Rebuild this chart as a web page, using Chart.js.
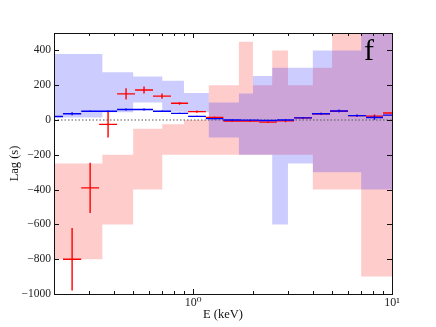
<!DOCTYPE html>
<html>
<head>
<meta charset="utf-8">
<script src="https://cdn.jsdelivr.net/npm/chart.js"></script>
<style>
  body { margin: 0; background: #fff; }
  canvas { display: block; }
</style>
</head>
<body>
<canvas id="lagChart" width="436" height="327"></canvas>
<script>
// energy bins of the lag points (keV), one more edge than points
const binEdges = [0.18, 0.222, 0.274, 0.337, 0.415, 0.511, 0.629, 0.775, 0.944, 1.16, 1.42,
                  1.74, 2.15, 2.64, 3.22, 3.96, 4.88, 6.01, 7.40, 9.01, 11.1];

// red points (first bin has no red point)
const redLag = [null, -800, -390, -25, 150, 172, 137, 96, 48, 15, -6, -6, -12, -5, 12, 36, 50, 25, 22, 40];
const redErr = [null, 180, 145, 75, 32, 20, 15, 8, 6, 5, 4, 4, 5, 8, 5, 5, 6, 5, 10, 6];

// blue points
const blueLag = [20, 36, 50, 50, 60, 60, 50, 38, 21, 8, 0, -1, -3, 0, 12, 36, 52, 25, 14, 28];
const blueErr = [3, 8, 4, 4, 6, 6, 4, 3, 3, 3, 3, 3, 3, 3, 4, 6, 8, 6, 12, 5];

// coarser bins of the shaded ranges
const bandEdges = [0.2, 0.35, 0.5, 0.7, 0.9, 1.2, 1.7, 2.0, 2.5, 3.0, 4.0, 5.0, 7.0, 10.0];
const redBandLo  = [-800, -600, -400, -200, -200, -200, -200, -200, -200, -200, -400, -400, -900];
const redBandHi  = [-250, -200, -50, -25, 0, 200, 450, 200, 400, 200, 300, 600, 600];
const blueBandLo = [15, 45, 100, 48, 45, -100, -200, -200, -600, -250, -300, -300, -400];
const blueBandHi = [380, 275, 250, 225, 155, 100, 153, 253, 300, 300, 400, 400, 600];

// axis ticks
const xMajor = [1, 10];
const xMinor = [0.3, 0.4, 0.5, 0.6, 0.7, 0.8, 0.9, 2, 3, 4, 5, 6, 7, 8, 9];
const yTicks = [-1000, -800, -600, -400, -200, 0, 200, 400];

//turns a band into points for a stepped line
function stepPoints(vals) {
    const pts = vals.map((v, i) => ({x: bandEdges[i], y: v}));
    pts.push({x: bandEdges[bandEdges.length - 1], y: vals[vals.length - 1]});
    return pts;
}

//horizontal parts of the error bars, broken with nulls
function hBars(lag) {
    const pts = [];
    for (let i = 0; i < lag.length; i++) {
        if (lag[i] === null) continue;
        pts.push({x: binEdges[i], y: lag[i]});
        pts.push({x: binEdges[i + 1], y: lag[i]});
        pts.push({x: binEdges[i + 1], y: null});
    }
    return pts;
}

//vertical parts of the error bars
function vBars(lag, err) {
    const pts = [];
    for (let i = 0; i < lag.length; i++) {
        if (lag[i] === null) continue;
        const mid = Math.sqrt(binEdges[i] * binEdges[i + 1]);
        pts.push({x: mid, y: lag[i] - err[i]});
        pts.push({x: mid, y: lag[i] + err[i]});
        pts.push({x: mid, y: null});
    }
    return pts;
}

const serif = "'Liberation Serif', 'DejaVu Serif', serif";
const noLine = 'rgba(0,0,0,0)';

function band(vals, color, fill, order) {
    return {data: stepPoints(vals), stepped: true, borderColor: noLine, borderWidth: 0,
            backgroundColor: color, fill: fill, pointRadius: 0, order: order};
}

function bars(pts, color, order) {
    return {data: pts, borderColor: color, borderWidth: 1.4, pointRadius: 0,
            fill: false, spanGaps: false, order: order};
}

//frame, inward ticks and the panel letter
const frameTicks = {
    id: 'frameTicks',
    afterDatasetsDraw(chart) {
        const {ctx, chartArea: a, scales} = chart;
        const x = scales.x, y = scales.y;
        ctx.save();
        ctx.strokeStyle = '#111';
        ctx.lineWidth = 1;
        ctx.beginPath();
        const tickX = (v, len) => {
            const px = Math.round(x.getPixelForValue(v)) + 0.5;
            ctx.moveTo(px, a.bottom); ctx.lineTo(px, a.bottom - len);
            ctx.moveTo(px, a.top); ctx.lineTo(px, a.top + len);
        };
        xMajor.forEach(v => tickX(v, 5));
        xMinor.forEach(v => tickX(v, 3));
        yTicks.forEach(v => {
            const py = Math.round(y.getPixelForValue(v)) + 0.5;
            ctx.moveTo(a.left, py); ctx.lineTo(a.left + 5, py);
            ctx.moveTo(a.right, py); ctx.lineTo(a.right - 5, py);
        });
        ctx.stroke();
        ctx.strokeRect(Math.round(a.left) + 0.5, Math.round(a.top) + 0.5,
                       Math.round(a.right - a.left), Math.round(a.bottom - a.top));
        ctx.fillStyle = '#000';
        ctx.font = '30px ' + serif;
        ctx.textAlign = 'left';
        ctx.textBaseline = 'alphabetic';
        ctx.fillText('f', 364, 60);
        ctx.restore();
    }
};

new Chart('lagChart', {
    type: 'line',
    data: {
        datasets: [
            band(redBandHi, 'rgba(255,0,0,0.2)', '+1', 6),
            band(redBandLo, 'rgba(255,0,0,0.2)', false, 6),
            band(blueBandHi, 'rgba(0,0,255,0.2)', '+1', 5),
            band(blueBandLo, 'rgba(0,0,255,0.2)', false, 5),
            {data: [{x: 0.2, y: 0}, {x: 10, y: 0}], borderColor: '#555', borderWidth: 1,
             borderDash: [1.5, 2], pointRadius: 0, fill: false, order: 4},
            bars(hBars(redLag), 'rgb(255,0,0)', 3),
            bars(vBars(redLag, redErr), 'rgb(255,0,0)', 3),
            bars(hBars(blueLag), 'rgb(0,0,255)', 2),
            bars(vBars(blueLag, blueErr), 'rgb(0,0,255)', 2)
        ]
    },
    options: {
        responsive: false,
        animation: false,
        devicePixelRatio: 1,
        layout: {padding: {top: 33, right: 44, left: 0, bottom: 0}},
        plugins: {legend: {display: false}, tooltip: {enabled: false}},
        scales: {
            x: {
                type: 'logarithmic',
                min: 0.2,
                max: 10,
                grid: {display: false, drawTicks: false},
                border: {display: false},
                afterBuildTicks: (s) => { s.ticks = xMajor.map(v => ({value: v})); },
                afterFit: (s) => { s.height = 33; },
                ticks: {
                    autoSkip: false,
                    maxRotation: 0,
                    padding: 2,
                    color: '#222',
                    font: {family: serif, size: 12},
                    callback: (v) => v === 1 ? '10\u2070' : (v === 10 ? '10\u00b9' : '')
                },
                title: {display: true, text: 'E (keV)', color: '#111',
                        font: {family: serif, size: 12.5}, padding: {top: 0, bottom: 5}}
            },
            y: {
                min: -1000,
                max: 500,
                grid: {display: false, drawTicks: false},
                border: {display: false},
                afterBuildTicks: (s) => { s.ticks = yTicks.map(v => ({value: v})); },
                afterFit: (s) => { s.width = 54; },
                ticks: {
                    padding: 3,
                    color: '#222',
                    font: {family: serif, size: 11.5},
                    callback: (v) => v < 0 ? '\u2212' + Math.abs(v) : String(v)
                },
                title: {display: true, text: 'Lag (s)', color: '#111',
                        font: {family: serif, size: 12.5}, padding: {top: 7, bottom: 0}}
            }
        }
    },
    plugins: [frameTicks]
});
</script>
</body>
</html>
